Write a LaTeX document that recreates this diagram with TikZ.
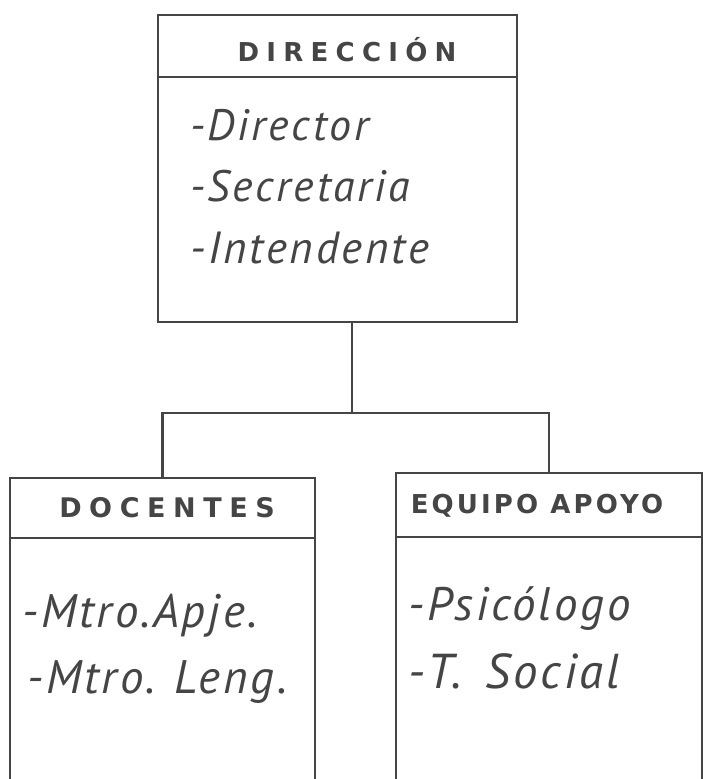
\documentclass[tikz,border=0pt]{standalone}
\usepackage{fontspec}
\newfontfamily\hdr[LetterSpace=28]{DejaVu Sans}
\newfontfamily\hdrb[LetterSpace=12]{DejaVu Sans}
\newfontfamily\hand[LetterSpace=6]{PT Sans}
\definecolor{ink}{HTML}{454545}
\begin{document}
\begin{tikzpicture}[x=1pt,y=-1pt,
  box/.style={draw=ink, line width=2.2pt, rectangle, inner sep=0pt},
  link/.style={draw=ink, line width=2.2pt},
  head/.style={text=ink, font=\hdr\bfseries\fontsize{26}{26}\selectfont, inner sep=0pt},
  item/.style={text=ink, font=\hand\itshape\fontsize{44}{44}\selectfont, inner sep=0pt, anchor=base west},
  bigitem/.style={item, font=\hand\itshape\fontsize{47}{47}\selectfont}]
\useasboundingbox (0,0) rectangle (703,779);
\clip (0,0) rectangle (703,779);
% boxes
\node[box, minimum width=359pt, minimum height=307pt] (dir) at (337.5,168.5) {};
\node[box, minimum width=305pt, minimum height=322pt] (doc) at (162.5,639) {};
\node[box, minimum width=306pt, minimum height=327pt] (apo) at (549,636.5) {};
% header separators
\draw[link] (dir.west |- 0,77) -- (dir.east |- 0,77);
\draw[link] (doc.west |- 0,538) -- (doc.east |- 0,538);
\draw[link] (apo.west |- 0,537) -- (apo.east |- 0,537);
% connectors
\coordinate (j) at (352,413);
\draw[link] (dir.south -| j) -- (j);
\draw[link] (doc.north) |- (j) -| (apo.north);
% headers
\node[head] (hdir) at (347,50) {DIRECCIÓN};
\node[head, font=\hdr\bfseries\fontsize{27}{27}\selectfont] (hdoc) at (167,508) {DOCENTES};
\node[head, font=\hdrb\bfseries\fontsize{26}{26}\selectfont] (hapo) at (537,506) {EQUIPO APOYO};
% items
\node[item] (i1) at (190,140) {-Director};
\node[item] (i2) at (190,201) {-Secretaria};
\node[item, font=\hand\itshape\fontsize{45}{45}\selectfont] (i3) at (190,263) {-Intendente};
\node[bigitem] (i4) at (22,627) {-Mtro.Apje.};
\node[bigitem] (i5) at (27,693) {-Mtro.\ \hspace{4pt}Leng.};
\node[bigitem] (i6) at (408,620) {-Psicólogo};
\node[bigitem, font=\hand\itshape\fontsize{49}{49}\selectfont] (i7) at (408,688) {-T.\ \hspace{8pt}Social};
\end{tikzpicture}
\end{document}
